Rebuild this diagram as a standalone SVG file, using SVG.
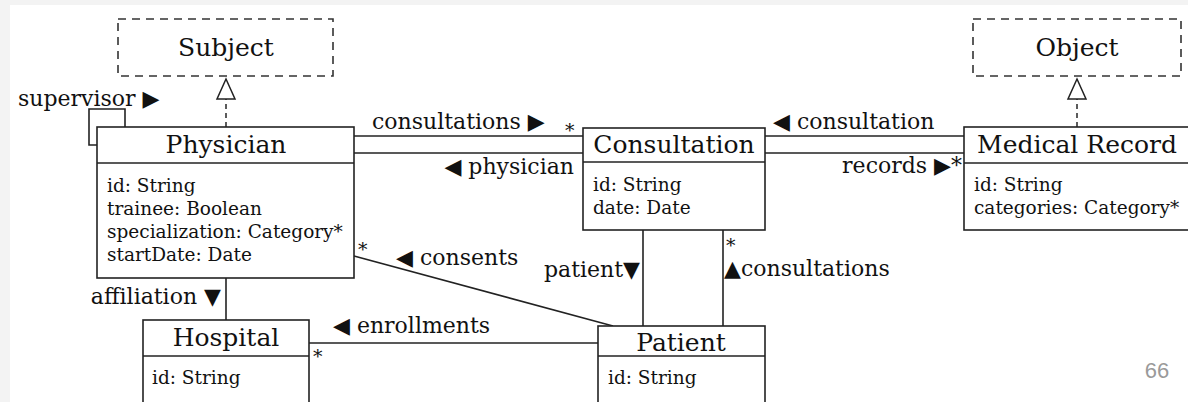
<svg xmlns="http://www.w3.org/2000/svg" width="1188" height="402" viewBox="0 0 1188 402">
  <style>
    .box { fill: #ffffff; stroke: #222222; stroke-width: 1.6; }
    .iface { fill: none; stroke: #333333; stroke-width: 1.6; stroke-dasharray: 8 6; }
    .line { fill: none; stroke: #222222; stroke-width: 1.6; }
    .dash { fill: none; stroke: #333333; stroke-width: 1.6; stroke-dasharray: 5 4; }
    .tri { fill: #ffffff; stroke: #222222; stroke-width: 1.5; }
    .title { font-family: "DejaVu Serif", "Liberation Serif", serif; font-size: 25px; fill: #111111; text-anchor: middle; }
    .attr { font-family: "DejaVu Serif", "Liberation Serif", serif; font-size: 18.5px; fill: #111111; }
    .lbl { font-family: "DejaVu Serif", "Liberation Serif", serif; font-size: 22px; fill: #111111; }
    .mult { font-family: "DejaVu Serif", "Liberation Serif", serif; font-size: 19px; fill: #111111; }
  </style>

  <!-- page background -->
  <rect x="0" y="0" width="1188" height="402" fill="#f3f3f3"/>
  <rect x="10" y="5" width="1178" height="397" fill="#ffffff"/>

  <!-- connectors -->
  <g id="connectors">
    <!-- realizations -->
    <path class="dash" d="M226 127 V99"/>
    <path class="tri" d="M226 79 L235 99 L217 99 Z"/>
    <path class="dash" d="M1077 127 V99"/>
    <path class="tri" d="M1077 79 L1086 99 L1068 99 Z"/>
    <!-- supervisor self loop -->
    <path class="line" d="M125 127 V109 H89 V145 H97"/>
    <!-- physician / consultation -->
    <path class="line" d="M354 136 H583"/>
    <path class="line" d="M354 153 H583"/>
    <!-- consultation / medical record -->
    <path class="line" d="M765 136 H964"/>
    <path class="line" d="M765 153 H964"/>
    <!-- affiliation -->
    <path class="line" d="M226 278 V320"/>
    <!-- consents -->
    <path class="line" d="M354 256 L613 326"/>
    <!-- enrollments -->
    <path class="line" d="M309 343 H598"/>
    <!-- consultation / patient -->
    <path class="line" d="M643 230 V326"/>
    <path class="line" d="M723 230 V326"/>

    <!-- labels -->
    <text class="lbl" x="18" y="106">supervisor ▶</text>
    <text class="lbl" x="372" y="129">consultations ▶</text>
    <text class="mult" x="565" y="137">*</text>
    <text class="lbl" x="574" y="174" text-anchor="end">◀ physician</text>
    <text class="lbl" x="773" y="129">◀ consultation</text>
    <text class="lbl" x="962" y="173" text-anchor="end">records ▶*</text>
    <text class="lbl" x="221" y="304" text-anchor="end">affiliation ▼</text>
    <text class="mult" x="358" y="256">*</text>
    <text class="lbl" x="396" y="265">◀ consents</text>
    <text class="lbl" x="333" y="333">◀ enrollments</text>
    <text class="mult" x="313" y="363">*</text>
    <text class="lbl" x="640" y="277" text-anchor="end">patient▼</text>
    <text class="mult" x="726" y="252">*</text>
    <text class="lbl" x="724" y="276">▲consultations</text>
  </g>

  <!-- interfaces -->
  <g id="subject">
    <rect class="iface" x="118" y="19" width="215" height="57"/>
    <text class="title" x="226" y="56">Subject</text>
  </g>
  <g id="object">
    <rect class="iface" x="973" y="19" width="208" height="57"/>
    <text class="title" x="1077" y="56">Object</text>
  </g>

  <!-- classes -->
  <g id="physician">
    <rect class="box" x="97" y="127" width="257" height="151"/>
    <path class="line" d="M97 163 H354"/>
    <text class="title" x="226" y="153">Physician</text>
    <text class="attr" x="107" y="192">id: String</text>
    <text class="attr" x="107" y="215">trainee: Boolean</text>
    <text class="attr" x="107" y="238">specialization: Category*</text>
    <text class="attr" x="107" y="261">startDate: Date</text>
  </g>
  <g id="consultation">
    <rect class="box" x="583" y="128" width="182" height="102"/>
    <path class="line" d="M583 162 H765"/>
    <text class="title" x="674" y="153">Consultation</text>
    <text class="attr" x="593" y="191">id: String</text>
    <text class="attr" x="593" y="214">date: Date</text>
  </g>
  <g id="medical-record">
    <rect class="box" x="964" y="127" width="232" height="103"/>
    <path class="line" d="M964 163 H1196"/>
    <text class="title" x="1077" y="153">Medical Record</text>
    <text class="attr" x="974" y="191">id: String</text>
    <text class="attr" x="974" y="214">categories: Category*</text>
  </g>
  <g id="hospital">
    <rect class="box" x="143" y="320" width="166" height="90"/>
    <path class="line" d="M143 356 H309"/>
    <text class="title" x="226" y="346">Hospital</text>
    <text class="attr" x="152" y="384">id: String</text>
  </g>
  <g id="patient">
    <rect class="box" x="598" y="326" width="167" height="84"/>
    <path class="line" d="M598 356 H765"/>
    <text class="title" x="681" y="351">Patient</text>
    <text class="attr" x="608" y="384">id: String</text>
  </g>

  <!-- page number -->
  <text x="1157" y="378" font-family="'Liberation Sans', Arial, sans-serif" font-size="22" fill="#9a9a9a" text-anchor="middle">66</text>
</svg>
